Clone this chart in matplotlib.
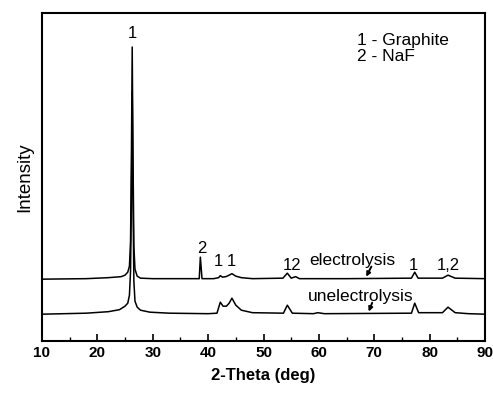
# -*- coding: utf-8 -*-
# xrd_grafito.py
import matplotlib.pyplot as plt
from matplotlib.ticker import MultipleLocator

plt.rcParams['font.family'] = ['Liberation Sans', 'DejaVu Sans']

# Patron electrolysis (2-theta, intensidad)
two_theta_e = [10, 18, 22, 24.3, 25, 25.5, 25.8, 26.0, 26.15, 26.3, 26.45, 26.6, 26.8,
               27.2, 27.8, 30, 35, 38.4, 38.6, 38.9, 41, 41.9, 42.2, 42.6, 43.2, 43.8,
               44.3, 45, 46, 48, 53.5, 54.3, 55, 55.8, 56.5, 65, 76.7, 77.3, 77.9,
               82.3, 83.3, 84.6, 90]
int_e = [62, 62.5, 63.5, 64.5, 66, 69, 75, 100, 180, 294, 180, 95, 72,
         65, 63, 62.5, 62.5, 62.5, 84, 62.5, 62.5, 63.5, 65.5, 64, 64.5, 66,
         67.5, 65, 63.5, 62.5, 63, 68, 63, 64.5, 62.5, 62.5, 63, 69, 63,
         63, 66, 63, 62.5]

# Patron unelectrolysis
two_theta_u = [10, 18, 22, 24, 25, 25.5, 25.8, 26.0, 26.15, 26.3, 26.45, 26.6, 26.8,
               27.2, 27.8, 29.5, 33, 40, 41.6, 42.2, 42.7, 43.3, 43.8, 44.3, 45, 46,
               48, 53.6, 54.3, 55.2, 59, 59.8, 61, 76.7, 77.3, 78, 82.3, 83.3, 84.6,
               87, 90]
int_u = [27, 28, 29.5, 31.5, 35, 38, 46, 70, 140, 250, 140, 60, 40,
         34, 31, 29, 28, 27.5, 28, 39, 35, 35, 38, 43, 36, 31,
         28.5, 28, 36, 28, 27.5, 28.5, 27.5, 28, 38, 28.5, 28.5, 34, 28.5,
         27.5, 27]

# Etiquetas de picos (texto, x, y)
etiquetas = [('1', 26.4, 308), ('2', 38.8, 93), ('1', 41.9, 80), ('1', 44.2, 80),
             ('12', 55.2, 76), ('1', 77.1, 76), ('1,2', 83.3, 76)]

fig, ax = plt.subplots(figsize=(4.93, 3.94), dpi=100)
fig.subplots_adjust(left=0.085, right=0.984, top=0.967, bottom=0.134)

ax.plot(two_theta_e, int_e, color='black', linewidth=1.1)
ax.plot(two_theta_u, int_u, color='black', linewidth=1.1)

for txt, x, y in etiquetas:
    ax.text(x, y, txt, ha='center', va='center', fontsize=12)

ax.text(66.1, 81, 'electrolysis', ha='center', va='center', fontsize=12.5)
ax.text(67.6, 45, 'unelectrolysis', ha='center', va='center', fontsize=12.5)
# flechas hacia cada curva
ax.annotate('', xy=(68.3, 62), xytext=(69.7, 77),
            arrowprops=dict(arrowstyle='-|>', color='black', lw=1.4, mutation_scale=6))
ax.annotate('', xy=(68.8, 27), xytext=(69.8, 41),
            arrowprops=dict(arrowstyle='-|>', color='black', lw=1.4, mutation_scale=6))

ax.text(66.8, 301, '1 - Graphite', ha='left', va='center', fontsize=12.5)
ax.text(66.8, 285, '2 - NaF', ha='left', va='center', fontsize=12.5)

ax.set_xlim(10, 90)
ax.set_ylim(0, 328)
ax.xaxis.set_major_locator(MultipleLocator(10))
ax.xaxis.set_minor_locator(MultipleLocator(5))
ax.tick_params(axis='x', which='major', direction='in', length=5, width=1.2, labelsize=11)
ax.tick_params(axis='x', which='minor', direction='in', length=3, width=1.0)
for lbl in ax.get_xticklabels():
    lbl.set_fontweight('bold')
ax.set_yticks([])
for s in ax.spines.values():
    s.set_linewidth(1.5)

ax.set_xlabel('2-Theta (deg)', fontsize=12, fontweight='bold', labelpad=6)
ax.set_ylabel('Intensity', fontsize=13.5, labelpad=6)

plt.savefig('out.png', dpi=100)
